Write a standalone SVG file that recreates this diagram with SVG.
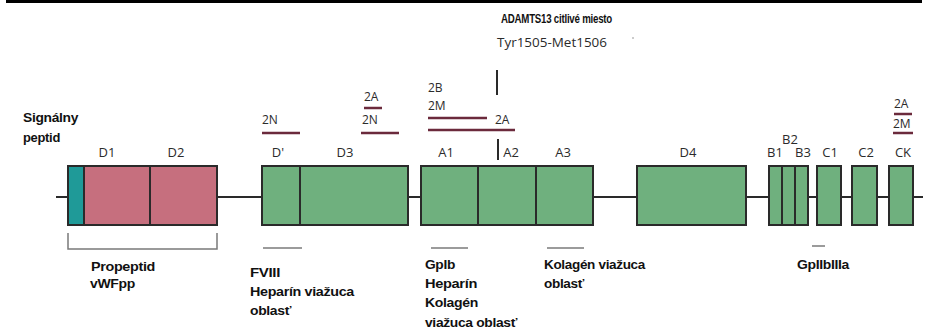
<svg xmlns="http://www.w3.org/2000/svg" width="934" height="333" viewBox="0 0 934 333">
  <style>
    .lbl { font-family: "Open Sans", "Liberation Sans", sans-serif; font-size: 13px; fill: #2b2b2b; }
    .mut { font-family: "Open Sans", "Liberation Sans", sans-serif; font-size: 12px; fill: #2b2b2b; }
    .bold { font-family: "Liberation Sans", Arial, sans-serif; font-size: 12.5px; font-weight: bold; fill: #111; letter-spacing: -0.3px; }
    .dom { stroke: #2a2a2a; stroke-width: 2; }
    .pink { fill: #c66f7e; }
    .teal { fill: #1f9a98; }
    .green { fill: #6fb07e; }
    .mline { stroke: #6b2a3c; stroke-width: 2.5; }
    .gline { stroke: #7a7a7a; stroke-width: 1.5; fill: none; }
  </style>

  <!-- top rule -->
  <rect x="6" y="0" width="916" height="3" fill="#000"/>

  <!-- backbone -->
  <g id="connectors">
    <line x1="56" y1="197" x2="923" y2="197" stroke="#2a2a2a" stroke-width="2"/>
    <!-- cleavage site marker -->
    <line x1="497" y1="70" x2="497" y2="95" stroke="#2a2a2a" stroke-width="2"/>
    <line x1="498" y1="139" x2="498" y2="160" stroke="#2a2a2a" stroke-width="2"/>
  </g>

  <!-- signal peptide + propeptide -->
  <g id="signal">
    <rect x="68" y="166" width="16" height="59" class="dom teal"/>
    <text class="bold" x="23" y="122" textLength="55" lengthAdjust="spacingAndGlyphs">Signálny</text>
    <text class="bold" x="23" y="142" textLength="37" lengthAdjust="spacingAndGlyphs">peptid</text>
  </g>
  <g id="D1">
    <rect x="84" y="166" width="66" height="59" class="dom pink"/>
    <text class="lbl" x="107" y="157" text-anchor="middle">D1</text>
  </g>
  <g id="D2">
    <rect x="150" y="166" width="67" height="59" class="dom pink"/>
    <text class="lbl" x="176" y="157" text-anchor="middle">D2</text>
  </g>

  <!-- mature subunit domains -->
  <g id="Dprime">
    <rect x="262" y="166" width="38" height="59" class="dom green"/>
    <text class="lbl" x="278" y="157" text-anchor="middle">D'</text>
  </g>
  <g id="D3">
    <rect x="300" y="166" width="108" height="59" class="dom green"/>
    <text class="lbl" x="345" y="157" text-anchor="middle">D3</text>
  </g>
  <g id="A1">
    <rect x="421" y="166" width="57" height="59" class="dom green"/>
    <text class="lbl" x="446" y="157" text-anchor="middle">A1</text>
  </g>
  <g id="A2">
    <rect x="478" y="166" width="58" height="59" class="dom green"/>
    <text class="lbl" x="511" y="157" text-anchor="middle">A2</text>
  </g>
  <g id="A3">
    <rect x="536" y="166" width="57" height="59" class="dom green"/>
    <text class="lbl" x="563" y="157" text-anchor="middle">A3</text>
  </g>
  <g id="D4">
    <rect x="637" y="166" width="109" height="59" class="dom green"/>
    <text class="lbl" x="688" y="157" text-anchor="middle">D4</text>
  </g>
  <g id="B1">
    <rect x="769" y="166" width="13" height="59" class="dom green"/>
    <text class="lbl" x="775" y="157" text-anchor="middle">B1</text>
  </g>
  <g id="B2">
    <rect x="782" y="166" width="13" height="59" class="dom green"/>
    <text class="lbl" x="790" y="144" text-anchor="middle">B2</text>
  </g>
  <g id="B3">
    <rect x="795" y="166" width="13" height="59" class="dom green"/>
    <text class="lbl" x="803" y="157" text-anchor="middle">B3</text>
  </g>
  <g id="C1">
    <rect x="817" y="166" width="24" height="59" class="dom green"/>
    <text class="lbl" x="830" y="157" text-anchor="middle">C1</text>
  </g>
  <g id="C2">
    <rect x="852" y="166" width="25" height="59" class="dom green"/>
    <text class="lbl" x="866" y="157" text-anchor="middle">C2</text>
  </g>
  <g id="CK">
    <rect x="889" y="166" width="24" height="59" class="dom green"/>
    <text class="lbl" x="903" y="157" text-anchor="middle">CK</text>
  </g>

  <!-- VWD type 2 mutation clusters -->
  <g id="mutations">
    <text class="mut" x="262" y="124">2N</text>
    <line x1="262" y1="133" x2="300" y2="133" class="mline"/>

    <text class="mut" x="364" y="101">2A</text>
    <line x1="364" y1="108" x2="382" y2="108" class="mline"/>
    <text class="mut" x="362" y="124">2N</text>
    <line x1="361" y1="133" x2="399" y2="133" class="mline"/>

    <text class="mut" x="428" y="92">2B</text>
    <text class="mut" x="428" y="110">2M</text>
    <line x1="428" y1="118" x2="487" y2="118" class="mline"/>
    <text class="mut" x="495" y="124">2A</text>
    <line x1="428" y1="130" x2="515" y2="130" class="mline"/>

    <text class="mut" x="894" y="108">2A</text>
    <line x1="894" y1="114" x2="912" y2="114" class="mline"/>
    <text class="mut" x="893" y="128">2M</text>
    <line x1="893" y1="133" x2="913" y2="133" class="mline"/>
  </g>

  <!-- ADAMTS13 cleavage site -->
  <g id="adamts13">
    <text class="bold" x="501" y="23" textLength="111" lengthAdjust="spacingAndGlyphs">ADAMTS13 citlivé miesto</text>
    <text class="mut" x="497" y="47" textLength="110" lengthAdjust="spacingAndGlyphs">Tyr1505-Met1506</text>
    <line x1="632" y1="38" x2="634" y2="38" stroke="#999" stroke-width="1"/>
  </g>

  <!-- propeptide bracket -->
  <g id="propeptide">
    <path d="M68 233 V249 H217 V233" class="gline"/>
    <text class="bold" x="91" y="271" textLength="64" lengthAdjust="spacingAndGlyphs">Propeptid</text>
    <text class="bold" x="90" y="288" textLength="45" lengthAdjust="spacingAndGlyphs">vWFpp</text>
  </g>

  <!-- binding regions -->
  <g id="fviii">
    <line x1="263" y1="248" x2="302" y2="248" class="gline"/>
    <text class="bold" x="250" y="277" textLength="30" lengthAdjust="spacingAndGlyphs">FVIII</text>
    <text class="bold" x="250" y="296" textLength="104" lengthAdjust="spacingAndGlyphs">Heparín viažuca</text>
    <text class="bold" x="250" y="315" textLength="41" lengthAdjust="spacingAndGlyphs">oblasť</text>
  </g>
  <g id="gpib">
    <line x1="431" y1="248" x2="468" y2="248" class="gline"/>
    <text class="bold" x="425" y="269" textLength="30" lengthAdjust="spacingAndGlyphs">GpIb</text>
    <text class="bold" x="425" y="288" textLength="52" lengthAdjust="spacingAndGlyphs">Heparín</text>
    <text class="bold" x="425" y="307" textLength="53" lengthAdjust="spacingAndGlyphs">Kolagén</text>
    <text class="bold" x="425" y="327" textLength="92" lengthAdjust="spacingAndGlyphs">viažuca oblasť</text>
  </g>
  <g id="collagen">
    <line x1="547" y1="248" x2="584" y2="248" class="gline"/>
    <text class="bold" x="544" y="269" textLength="101" lengthAdjust="spacingAndGlyphs">Kolagén viažuca</text>
    <text class="bold" x="544" y="288" textLength="40" lengthAdjust="spacingAndGlyphs">oblasť</text>
  </g>
  <g id="gpiibiiia">
    <line x1="812" y1="246" x2="825" y2="246" class="gline"/>
    <text class="bold" x="797" y="269" textLength="52" lengthAdjust="spacingAndGlyphs">GpIIbIIIa</text>
  </g>
</svg>
